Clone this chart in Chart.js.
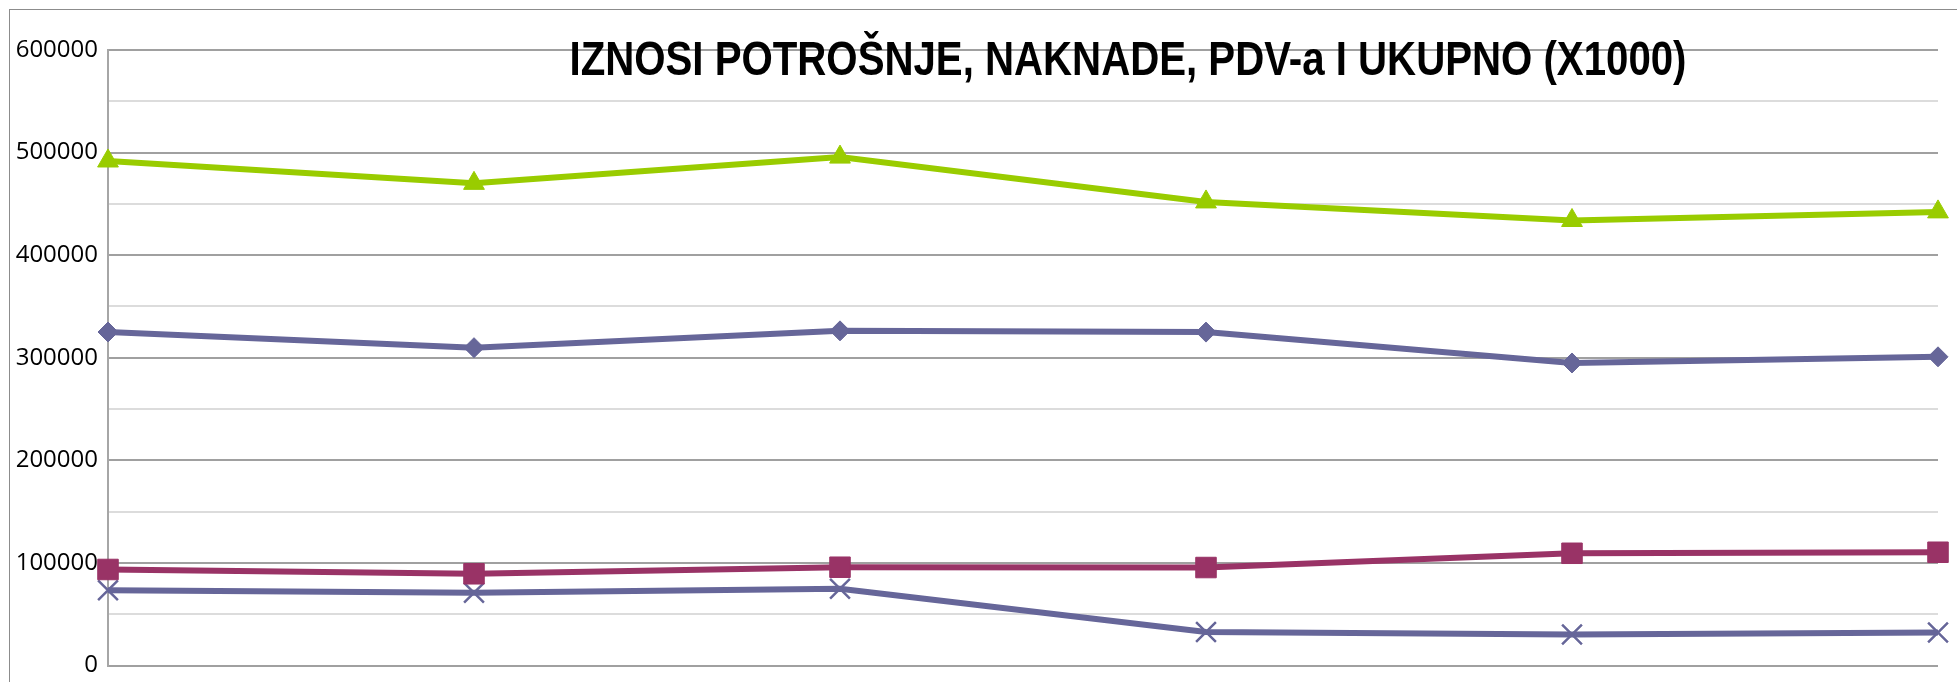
<!DOCTYPE html>
<html>
<head>
<meta charset="utf-8">
<script src="https://cdn.jsdelivr.net/npm/chart.js@4"></script>
<style>
  html, body { margin: 0; padding: 0; background: #fff; overflow: hidden; }
  #wrap { position: relative; width: 1957px; height: 682px; }
  #frame { position: absolute; left: 9px; top: 9px; width: 1960px; height: 700px; border: 1px solid #8c8c8c; }
  canvas { position: absolute; left: 0; top: 0; }
</style>
</head>
<body>
<div id="wrap">
  <div id="frame"></div>
  <canvas id="myChart" width="1957" height="682"></canvas>
</div>
<script>
// kategorije (os X nema oznake)
const labels = ['', '', '', '', '', ''];

// serije (procjena iz slike)
const ukupno = [491800, 470000, 495600, 451900, 433800, 442200];
const potrosnja = [325100, 309800, 326200, 325000, 294900, 300900];
const naknade = [93600, 89400, 95800, 95500, 109400, 110400];
const pdv = [73300, 71000, 74800, 32700, 30300, 32200];

const yTicks = [0, 100000, 200000, 300000, 400000, 500000, 600000];

const title = 'IZNOSI POTROŠNJE, NAKNADE, PDV-a I UKUPNO (X1000)';

// naslov preko područja grafa
const titlePlugin = {
    id: 'overTitle',
    afterDraw(chart) {
        const ctx = chart.ctx;
        ctx.save();
        ctx.font = 'bold 48px "Liberation Sans Narrow", "Liberation Sans", sans-serif';
        ctx.fillStyle = '#000';
        ctx.textAlign = 'center';
        ctx.textBaseline = 'middle';
        const w = ctx.measureText(title).width;
        const target = 1117;
        const cx = 1128, cy = 62;
        ctx.translate(cx, cy);
        if (w > target) ctx.scale(target / w, 1);
        ctx.fillText(title, 0, 0);
        ctx.restore();
    }
};

const data = {
    labels: labels,
    datasets: [{
        label: 'UKUPNO',
        data: ukupno,
        borderColor: '#99cc00',
        backgroundColor: '#99cc00',
        borderWidth: 6,
        pointStyle: 'triangle',
        pointRadius: 12,
        pointBorderWidth: 1,
    }, {
        label: 'POTROŠNJA',
        data: potrosnja,
        borderColor: '#666699',
        backgroundColor: '#666699',
        borderWidth: 6,
        pointStyle: 'rectRot',
        pointRadius: 10,
        pointBorderWidth: 1,
    }, {
        label: 'NAKNADE',
        data: naknade,
        borderColor: '#993366',
        backgroundColor: '#993366',
        borderWidth: 6,
        pointStyle: 'rect',
        pointRadius: 14.5,
        pointBorderWidth: 1,
    }, {
        label: 'PDV',
        data: pdv,
        borderColor: '#666699',
        backgroundColor: '#666699',
        borderWidth: 6,
        pointStyle: 'crossRot',
        pointRadius: 14,
        pointBorderWidth: 2.5,
    }]
};

const config = {
    type: 'line',
    data: data,
    options: {
        responsive: false,
        animation: false,
        events: [],
        layout: { padding: { left: 0, right: 19, top: 50, bottom: 10 } },
        plugins: {
            legend: { display: false },
            title: { display: false },
            tooltip: { enabled: false }
        },
        scales: {
            x: {
                display: false,
                offset: false
            },
            y: {
                min: 0,
                max: 600000,
                afterFit(scale) {
                    scale.width = 108;
                    scale.paddingTop = 0;
                    scale.paddingBottom = 0;
                },
                afterBuildTicks(scale) {
                    const t = [];
                    for (let v = 0; v <= 600000; v += 50000) t.push({ value: v });
                    scale.ticks = t;
                },
                ticks: {
                    padding: 0,
                    color: '#000',
                    font: { family: '"Open Sans", sans-serif', size: 24, lineHeight: 1 },
                    callback: v => yTicks.includes(v) ? String(v) : ''
                },
                grid: {
                    drawTicks: true,
                    tickLength: 10,
                    tickColor: 'rgba(0,0,0,0)',
                    lineWidth: 2,
                    color: c => (c.tick && c.tick.value % 100000 === 0) ? '#a0a0a0' : '#dcdcdc'
                },
                border: { display: true, color: '#a6a6a6', width: 2 }
            }
        }
    },
    plugins: [titlePlugin]
};

const myChart = new Chart(document.getElementById('myChart'), config);
</script>
</body>
</html>
